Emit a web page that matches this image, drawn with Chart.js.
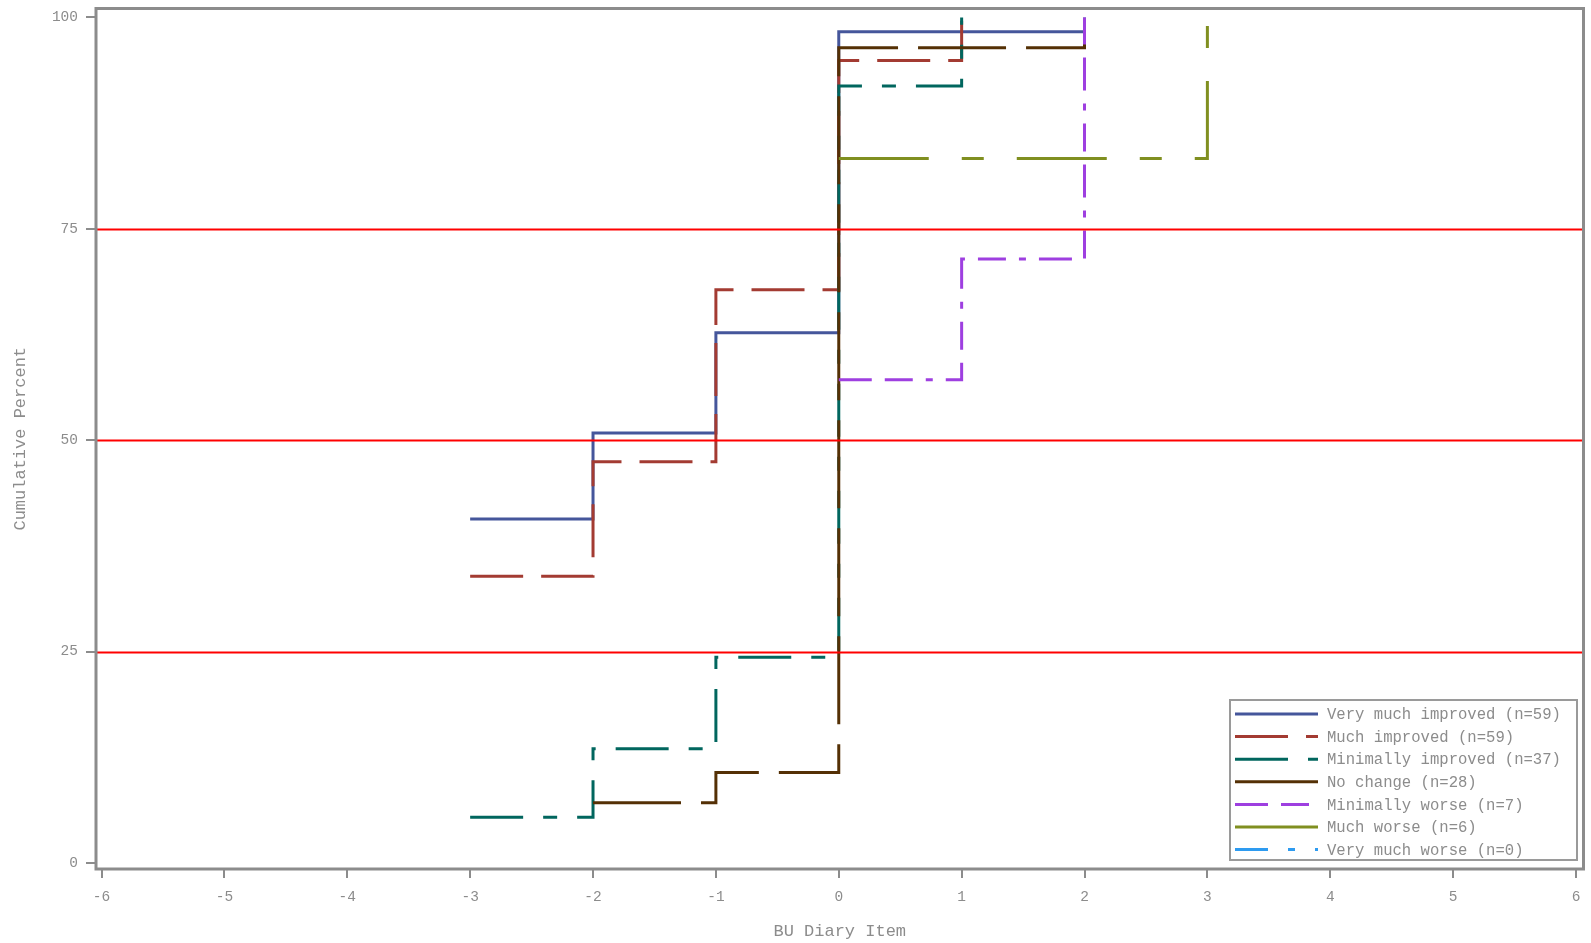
<!DOCTYPE html>
<html>
<head>
<meta charset="utf-8">
<script src="https://cdn.jsdelivr.net/npm/chart.js@4"></script>
<style>
  body { margin: 0; background: #fff; }
  #wrap { width: 1591px; height: 943px; }
</style>
</head>
<body>
<div id="wrap"><canvas id="cdfChart" width="1591" height="943"></canvas></div>
<script>
// series labels and values (cumulative percent at each BU diary item value)
const seriesNames = [
    'Very much improved (n=59)',
    'Much improved (n=59)',
    'Minimally improved (n=37)',
    'No change (n=28)',
    'Minimally worse (n=7)',
    'Much worse (n=6)',
    'Very much worse (n=0)'
];
const veryMuchImprovedX = [-3, -2, -1, 0, 1, 2];
const veryMuchImprovedY = [40.68, 50.85, 62.71, 98.31, 98.31, 100];
const muchImprovedX = [-3, -2, -1, 0, 1];
const muchImprovedY = [33.90, 47.46, 67.80, 94.92, 100];
const minImprovedX = [-3, -2, -1, 0, 1];
const minImprovedY = [5.41, 13.51, 24.32, 91.89, 100];
const noChangeX = [-2, -1, 0, 1, 2];
const noChangeY = [7.14, 10.71, 96.43, 96.43, 100];
const minWorseX = [0, 1, 2];
const minWorseY = [57.14, 71.43, 100];
const muchWorseX = [0, 1, 2, 3];
const muchWorseY = [83.33, 83.33, 83.33, 100];
const veryMuchWorseX = [];
const veryMuchWorseY = [];

const xTicks = [-6, -5, -4, -3, -2, -1, 0, 1, 2, 3, 4, 5, 6];
const yTicks = [0, 25, 50, 75, 100];
const refLines = [25, 50, 75];

const colors = ['#45569B', '#A33B32', '#01665E', '#543005', '#9E3FE0', '#808F20', '#2E9BF0'];
const dashes = [[], [53, 18], [53, 20, 14, 20], [88, 20], [33, 13, 28, 13, 7, 13], [90, 33, 22, 33], [33, 20, 7, 20]];

const GRAY = '#8c8c8c';
const MONO = "'Liberation Mono', 'DejaVu Sans Mono', monospace";

function toPoints(xs, ys) {
    return xs.map((x, i) => ({ x: x, y: ys[i] }));
}

const allX = [veryMuchImprovedX, muchImprovedX, minImprovedX, noChangeX, minWorseX, muchWorseX, veryMuchWorseX];
const allY = [veryMuchImprovedY, muchImprovedY, minImprovedY, noChangeY, minWorseY, muchWorseY, veryMuchWorseY];

const datasets = seriesNames.map((name, i) => ({
    label: name,
    data: toPoints(allX[i], allY[i]),
    borderColor: colors[i],
    backgroundColor: colors[i],
    borderDash: dashes[i],
    borderWidth: 3,
    borderCapStyle: 'butt',
    borderJoinStyle: 'miter',
    stepped: true,
    pointRadius: 0,
    fill: false,
    order: 10 - i // later series drawn on top
}));

// red reference lines + plot frame + inside legend
const decorPlugin = {
    id: 'decor',
    afterDatasetsDraw(chart) {
        const { ctx, chartArea: a, scales } = chart;
        ctx.save();
        ctx.strokeStyle = '#ff0000';
        ctx.lineWidth = 2;
        refLines.forEach(v => {
            const y = Math.round(scales.y.getPixelForValue(v)) + 0.5;
            ctx.beginPath();
            ctx.moveTo(a.left, y);
            ctx.lineTo(a.right, y);
            ctx.stroke();
        });
        ctx.strokeStyle = GRAY;
        ctx.lineWidth = 3;
        ctx.strokeRect(a.left, a.top, a.right - a.left, a.bottom - a.top);
        ctx.restore();
    },
    afterDraw(chart) {
        const ctx = chart.ctx;
        const bx = 1230, by = 700, bw = 347, bh = 160;
        ctx.save();
        ctx.fillStyle = '#fff';
        ctx.fillRect(bx, by, bw, bh);
        ctx.strokeStyle = '#9a9a9a';
        ctx.lineWidth = 2;
        ctx.strokeRect(bx, by, bw, bh);
        ctx.font = '15.6px ' + MONO;
        ctx.textBaseline = 'middle';
        chart.data.datasets.forEach((ds, i) => {
            const y = 714 + i * 22.6;
            ctx.beginPath();
            ctx.setLineDash(ds.borderDash);
            ctx.strokeStyle = ds.borderColor;
            ctx.lineWidth = 3;
            ctx.moveTo(1235, y);
            ctx.lineTo(1318, y);
            ctx.stroke();
            ctx.setLineDash([]);
            ctx.fillStyle = GRAY;
            ctx.fillText(ds.label, 1327, y + 1);
        });
        ctx.restore();
    }
};

const ctx = document.getElementById('cdfChart').getContext('2d');
const cdfChart = new Chart(ctx, {
    type: 'line',
    data: { datasets: datasets },
    options: {
        responsive: false,
        animation: false,
        layout: { padding: { top: 8.5, right: 7.5, left: 0, bottom: 0 } },
        plugins: {
            legend: { display: false },
            tooltip: { enabled: false }
        },
        scales: {
            x: {
                type: 'linear',
                min: -6.045,
                max: 6.061,
                afterBuildTicks: axis => { axis.ticks = xTicks.map(v => ({ value: v })); },
                afterFit: scale => {
                    scale.height = 74;
                    scale.paddingLeft = 0;
                    scale.paddingRight = 0;
                },
                border: { display: false },
                grid: { drawOnChartArea: false, drawTicks: true, tickLength: 9, color: GRAY, lineWidth: 2 },
                ticks: { color: GRAY, font: { family: MONO, size: 14.5 }, padding: 10, maxRotation: 0 },
                title: {
                    display: true,
                    text: 'BU Diary Item',
                    color: GRAY,
                    font: { family: MONO, size: 17 },
                    padding: { top: 0, bottom: 1 }
                }
            },
            y: {
                type: 'linear',
                min: -0.71,
                max: 101.06,
                afterBuildTicks: axis => { axis.ticks = yTicks.map(v => ({ value: v })); },
                afterFit: scale => {
                    scale.width = 96;
                    scale.paddingTop = 0;
                    scale.paddingBottom = 0;
                },
                border: { display: false },
                grid: { drawOnChartArea: false, drawTicks: true, tickLength: 10, color: GRAY, lineWidth: 2 },
                ticks: { color: GRAY, font: { family: MONO, size: 14.5 }, padding: 8 },
                title: {
                    display: true,
                    text: 'Cumulative Percent',
                    color: GRAY,
                    font: { family: MONO, size: 17 },
                    padding: { top: 10, bottom: 0 }
                }
            }
        }
    },
    plugins: [decorPlugin]
});
</script>
</body>
</html>
